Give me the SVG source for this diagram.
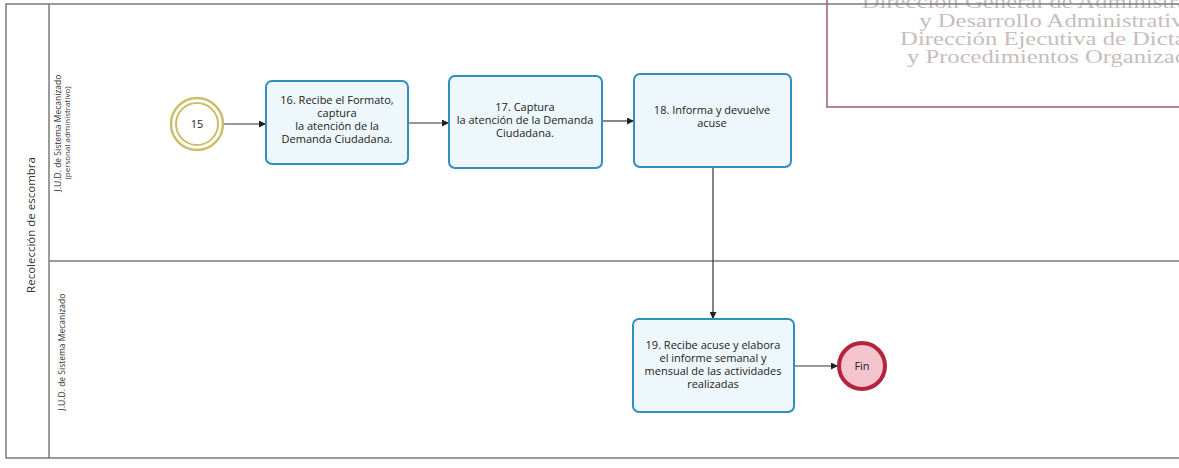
<svg xmlns="http://www.w3.org/2000/svg" width="1179" height="468" viewBox="0 0 1179 468">
  <style>
    .pool { fill: none; stroke: #7a7a7a; stroke-width: 1.5; }
    .lane { stroke: #7a7a7a; stroke-width: 1.5; }
    .task { fill: #eef7fb; stroke: #2f8fbf; stroke-width: 2; }
    .ttl { font-family: "Open Sans", "Liberation Sans", sans-serif; font-size: 11px; fill: #222; text-anchor: middle; }
    .lbl { font-family: "Open Sans", "Liberation Sans", sans-serif; fill: #333; text-anchor: middle; }
    .flow { fill: none; stroke: #333; stroke-width: 1.2; }
    .stamp { font-family: "Liberation Serif", serif; font-size: 18px; fill: #c6bdbd; }
  </style>
  <defs>
    <marker id="arrow" viewBox="0 0 10 10" refX="10" refY="5" markerWidth="7" markerHeight="7" orient="auto" markerUnits="userSpaceOnUse">
      <path d="M0,0 L10,5 L0,10 z" fill="#222"/>
    </marker>
  </defs>
  <rect width="1179" height="468" fill="#ffffff"/>

  <!-- stamp box in the upper right, running past the right edge -->
  <g id="stamp">
    <rect x="827" y="-6" width="370" height="113" fill="none" stroke="#b58391" stroke-width="2"/>
    <g transform="scale(1.37,1)">
      <text class="stamp" x="629" y="8">Dirección General de Administración</text>
      <text class="stamp" x="671" y="27">y Desarrollo Administrativo</text>
      <text class="stamp" x="657" y="45">Dirección Ejecutiva de Dictaminación</text>
      <text class="stamp" x="662" y="63">y Procedimientos Organizacionales</text>
    </g>
  </g>

  <!-- pool and lanes -->
  <g id="pool">
    <rect class="pool" x="6" y="4" width="1190" height="454"/>
    <line class="lane" x1="49" y1="4" x2="49" y2="458"/>
    <line class="lane" x1="49" y1="261" x2="1179" y2="261"/>
    <text class="lbl" font-size="11.5" transform="translate(35,225) rotate(-90)">Recolección de escombra</text>
    <text class="lbl" font-size="8.5" transform="translate(61,133) rotate(-90)">J.U.D.  de Sistema Mecanizado</text>
    <text class="lbl" font-size="8" transform="translate(70,133) rotate(-90)">(personal administrativo)</text>
    <text class="lbl" font-size="8.5" transform="translate(65,352) rotate(-90)">J.U.D.  de Sistema Mecanizado</text>
  </g>

  <!-- connectors -->
  <g id="connectors">
    <line class="flow" x1="223" y1="124" x2="266" y2="124" marker-end="url(#arrow)"/>
    <line class="flow" x1="408" y1="123" x2="449" y2="123" marker-end="url(#arrow)"/>
    <line class="flow" x1="602" y1="121" x2="634" y2="121" marker-end="url(#arrow)"/>
    <line class="flow" x1="713" y1="167" x2="713" y2="319" marker-end="url(#arrow)"/>
    <line class="flow" x1="794" y1="366" x2="838" y2="366" marker-end="url(#arrow)"/>
  </g>

  <g id="start-15">
    <circle cx="197" cy="124" r="26" fill="#ffffff" stroke="#cbbd6a" stroke-width="2.5"/>
    <circle cx="197" cy="124" r="21" fill="#ffffff" stroke="#cbbd6a" stroke-width="2"/>
    <text class="ttl" x="197" y="128">15</text>
  </g>

  <g id="task-16">
    <rect class="task" x="266" y="81" width="142" height="83" rx="6"/>
    <text class="ttl" x="337" y="104">16. Recibe el Formato,</text>
    <text class="ttl" x="337" y="117">captura</text>
    <text class="ttl" x="337" y="130">la atención de la</text>
    <text class="ttl" x="337" y="143">Demanda Ciudadana.</text>
  </g>

  <g id="task-17">
    <rect class="task" x="449" y="76" width="153" height="92" rx="6"/>
    <text class="ttl" x="525" y="111">17. Captura</text>
    <text class="ttl" x="525" y="124">la atención de la Demanda</text>
    <text class="ttl" x="525" y="137">Ciudadana.</text>
  </g>

  <g id="task-18">
    <rect class="task" x="634" y="74" width="157" height="93" rx="6"/>
    <text class="ttl" x="712" y="114">18. Informa y devuelve</text>
    <text class="ttl" x="712" y="127">acuse</text>
  </g>

  <g id="task-19">
    <rect class="task" x="633" y="319" width="161" height="93" rx="6"/>
    <text class="ttl" x="713" y="349">19. Recibe acuse y elabora</text>
    <text class="ttl" x="713" y="362">el informe semanal y</text>
    <text class="ttl" x="713" y="375">mensual de las actividades</text>
    <text class="ttl" x="713" y="388">realizadas</text>
  </g>

  <g id="end-fin">
    <circle cx="862" cy="366" r="23" fill="#f5c4cd" stroke="#b3243d" stroke-width="4"/>
    <text class="ttl" x="862" y="370">Fin</text>
  </g>
</svg>
